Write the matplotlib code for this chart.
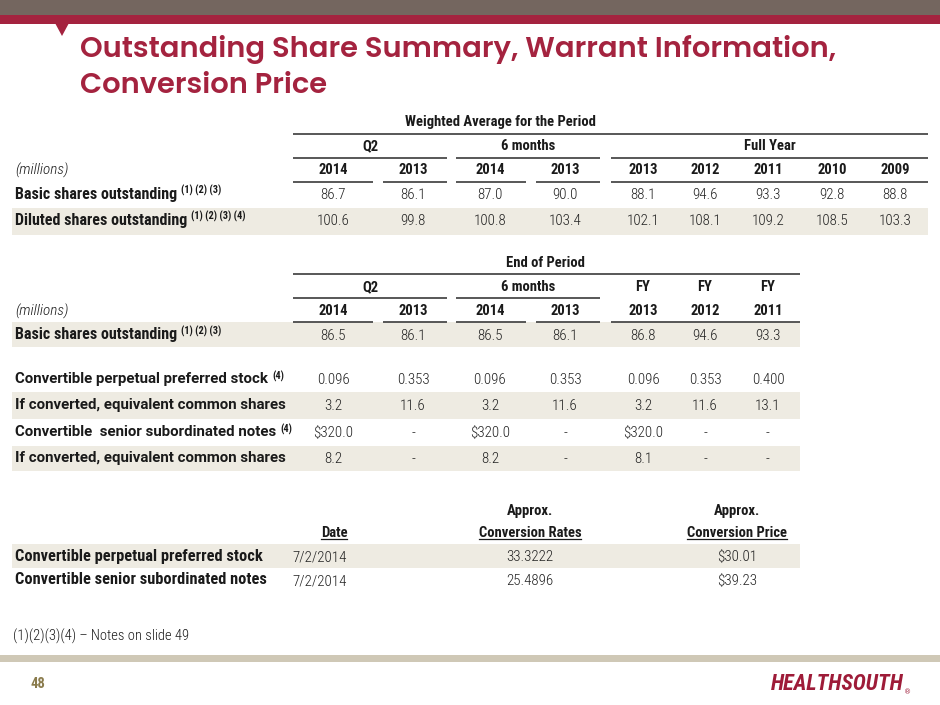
import matplotlib
matplotlib.use("Agg")
import matplotlib.pyplot as plt
from matplotlib import font_manager
from matplotlib.patches import Rectangle, Polygon

# ---- data ----
wa_groups = ["Q2", "6 months", "Full Year"]
wa_years = ["2014", "2013", "2014", "2013", "2013", "2012", "2011", "2010", "2009"]
wa_basic = [86.7, 86.1, 87.0, 90.0, 88.1, 94.6, 93.3, 92.8, 88.8]
wa_diluted = [100.6, 99.8, 100.8, 103.4, 102.1, 108.1, 109.2, 108.5, 103.3]

eop_groups = ["Q2", "6 months", "FY", "FY", "FY"]
eop_years = ["2014", "2013", "2014", "2013", "2013", "2012", "2011"]
eop_basic = [86.5, 86.1, 86.5, 86.1, 86.8, 94.6, 93.3]
pref_stock = [0.096, 0.353, 0.096, 0.353, 0.096, 0.353, 0.400]
pref_shares = [3.2, 11.6, 3.2, 11.6, 3.2, 11.6, 13.1]
notes_amt = [320.0, None, 320.0, None, 320.0, None, None]
notes_shares = [8.2, None, 8.2, None, 8.1, None, None]

conv_items = ["Convertible perpetual preferred stock", "Convertible senior subordinated notes"]
conv_dates = ["7/2/2014", "7/2/2014"]
conv_rates = [33.3222, 25.4896]
conv_prices = [30.01, 39.23]

# ---- fonts / colours ----
names = {f.name for f in font_manager.fontManager.ttflist}


def pick(*cands):
    for c in cands:
        if c in names:
            return c
    return "DejaVu Sans"


COND = pick("Roboto Condensed", "Archivo Narrow", "Barlow Semi Condensed")
WIDE = pick("Roboto", "Lato")
TITLE = pick("Poppins", "DejaVu Sans")
S = 1.0 if COND != "DejaVu Sans" else 0.8   # shrink if no condensed face

CRIMSON = "#a4233f"
GRAY_BAR = "#74665f"
SHADE = "#eeebe2"
TXT = "#1a1a1a"
LINE = "#4a4a4a"

fig = plt.figure(figsize=(9.4, 7.05), dpi=100)
ax = fig.add_axes([0, 0, 1, 1])
ax.set_xlim(0, 940)
ax.set_ylim(705, 0)
ax.axis("off")

# header bars
ax.add_patch(Rectangle((0, 0), 940, 15, color=GRAY_BAR, lw=0))
ax.add_patch(Rectangle((0, 15), 940, 9, color=CRIMSON, lw=0))
ax.add_patch(Polygon([(55, 23), (69, 23), (62, 36)], color=CRIMSON, lw=0))
for y, line in [(49, "Outstanding Share Summary, Warrant Information,"), (86, "Conversion Price")]:
    ax.text(80, y, line, fontsize=20.8, fontweight="semibold", family=TITLE,
            color=CRIMSON, va="center", ha="left")

# footer
ax.add_patch(Rectangle((0, 655), 940, 7, color="#cfc8b6", lw=0))
ax.text(38, 684, "48", fontsize=10.5, fontweight="bold", color="#8a7b4c",
        family=COND, va="center", ha="center")
logo = ax.text(771, 684, "HEALTHSOUTH", fontsize=15.8 * S, fontweight="bold", style="italic",
               color="#9e1b38", family=COND, va="center", ha="left")
ax.annotate("®", xy=(1, 0), xycoords=logo, xytext=(0.5, 0), textcoords="offset points",
            fontsize=5, color="#9e1b38", va="bottom", ha="left")
ax.text(13, 636, "(1)(2)(3)(4) \u2013 Notes on slide 49", fontsize=10.5 * S, color=TXT,
        family=COND, fontweight="light", va="center", ha="left")

LBL = dict(fontweight="bold", color=TXT, va="center", ha="left")
VAL = dict(fontsize=10.8 * S, fontweight="light", family=COND, color="#222222", va="center", ha="center")
HDR = dict(fontsize=10.5 * S, fontweight="bold", family=COND, color=TXT, va="center", ha="center")

cols = [333, 413, 490, 565, 643, 705, 768, 832, 895]
col_spans = [(293, 373), (383, 447), (456, 526), (536, 600)]


def label(y, text, sup=None, family=WIDE, size=10.8):
    t = ax.text(15, y, text, family=family, fontsize=size * S, **LBL)
    if sup:
        ax.annotate(sup, xy=(1, 1), xycoords=t, xytext=(3, 1), textcoords="offset points",
                    fontsize=7.5 * S, fontweight="bold", family=COND, color=TXT,
                    va="top", ha="left")


def shade(y0, y1, x1):
    ax.add_patch(Rectangle((12, y0), x1 - 12, y1 - y0, color=SHADE, lw=0, zorder=0))


def hline(y, x0, x1):
    ax.plot([x0, x1], [y, y], color=LINE, lw=1.3, solid_capstyle="butt")


def fmt(v, nd=1, pre=""):
    return "-" if v is None else f"{pre}{v:.{nd}f}"


def millions(y):
    ax.text(15, y, "(millions)", fontsize=11 * S, style="italic", fontweight="light",
            family=COND, color=TXT, va="center", ha="left")


# ---- table 1: weighted average ----
ax.text(500, 122, "Weighted Average for the Period", **HDR)
hline(134, 293, 928)
for g, (x0, x1) in zip(wa_groups, [(293, 447), (456, 600), (611, 928)]):
    ax.text((x0 + x1) / 2, 146, g, **HDR)
    hline(158, x0, x1)
for x, yr in zip(cols, wa_years):
    ax.text(x, 170, yr, **HDR)
for x0, x1 in col_spans + [(611, 928)]:
    hline(182, x0, x1)
millions(170)
label(194, "Basic shares outstanding", "(1) (2) (3)", COND, 11.5)
shade(208, 235, 928)
label(220, "Diluted shares outstanding", "(1) (2) (3) (4)", COND, 11.5)
for x, b, d in zip(cols, wa_basic, wa_diluted):
    ax.text(x, 195, fmt(b), **VAL)
    ax.text(x, 221, fmt(d), **VAL)

# ---- table 2: end of period ----
ax.text(545, 263, "End of Period", **HDR)
hline(274, 293, 800)
for g, x in zip(eop_groups, [370, 528, 643, 705, 768]):
    ax.text(x, 287, g, **HDR)
hline(298, 293, 447)
hline(298, 456, 600)
for x, yr in zip(cols, eop_years):
    ax.text(x, 311, yr, **HDR)
for x0, x1 in col_spans + [(611, 800)]:
    hline(322, x0, x1)
millions(311)
shade(322, 347, 800)
label(335, "Basic shares outstanding", "(1) (2) (3)", COND, 11.5)
label(379, "Convertible perpetual preferred stock", "(4)")
shade(392, 419, 800)
label(405, "If converted, equivalent common shares")
label(432, "Convertible  senior subordinated notes", "(4)")
shade(446, 471, 800)
label(458, "If converted, equivalent common shares")
for i, x in enumerate(cols[:len(eop_years)]):
    ax.text(x, 336, fmt(eop_basic[i]), **VAL)
    ax.text(x, 380, fmt(pref_stock[i], 3), **VAL)
    ax.text(x, 406, fmt(pref_shares[i]), **VAL)
    ax.text(x, 433, fmt(notes_amt[i], 1, "$"), **VAL)
    ax.text(x, 459, fmt(notes_shares[i]), **VAL)

# ---- table 3: conversion ----
ax.text(530, 511, "Approx.", **HDR)
ax.text(737, 511, "Approx.", **HDR)
under = [ax.text(334, 533, "Date", **HDR),
         ax.text(530, 533, "Conversion Rates", **HDR),
         ax.text(737, 533, "Conversion Price", **HDR)]
fig.canvas.draw()
inv = ax.transData.inverted()
for t in under:
    bb = t.get_window_extent()
    (xa, ya), (xb, yb) = inv.transform([(bb.x0, bb.y0), (bb.x1, bb.y1)])
    ax.plot([xa, xb], [ya - 1, ya - 1], color=TXT, lw=0.9)
shade(544, 568, 800)
for i, y in enumerate([556, 580]):
    label(y, conv_items[i], None, COND, 11.8)
    ax.text(320, y + 1, conv_dates[i], **VAL)
    ax.text(530, y + 1, f"{conv_rates[i]:.4f}", **VAL)
    ax.text(737, y + 1, f"${conv_prices[i]:.2f}", **VAL)

fig.savefig("out.png", dpi=100)
